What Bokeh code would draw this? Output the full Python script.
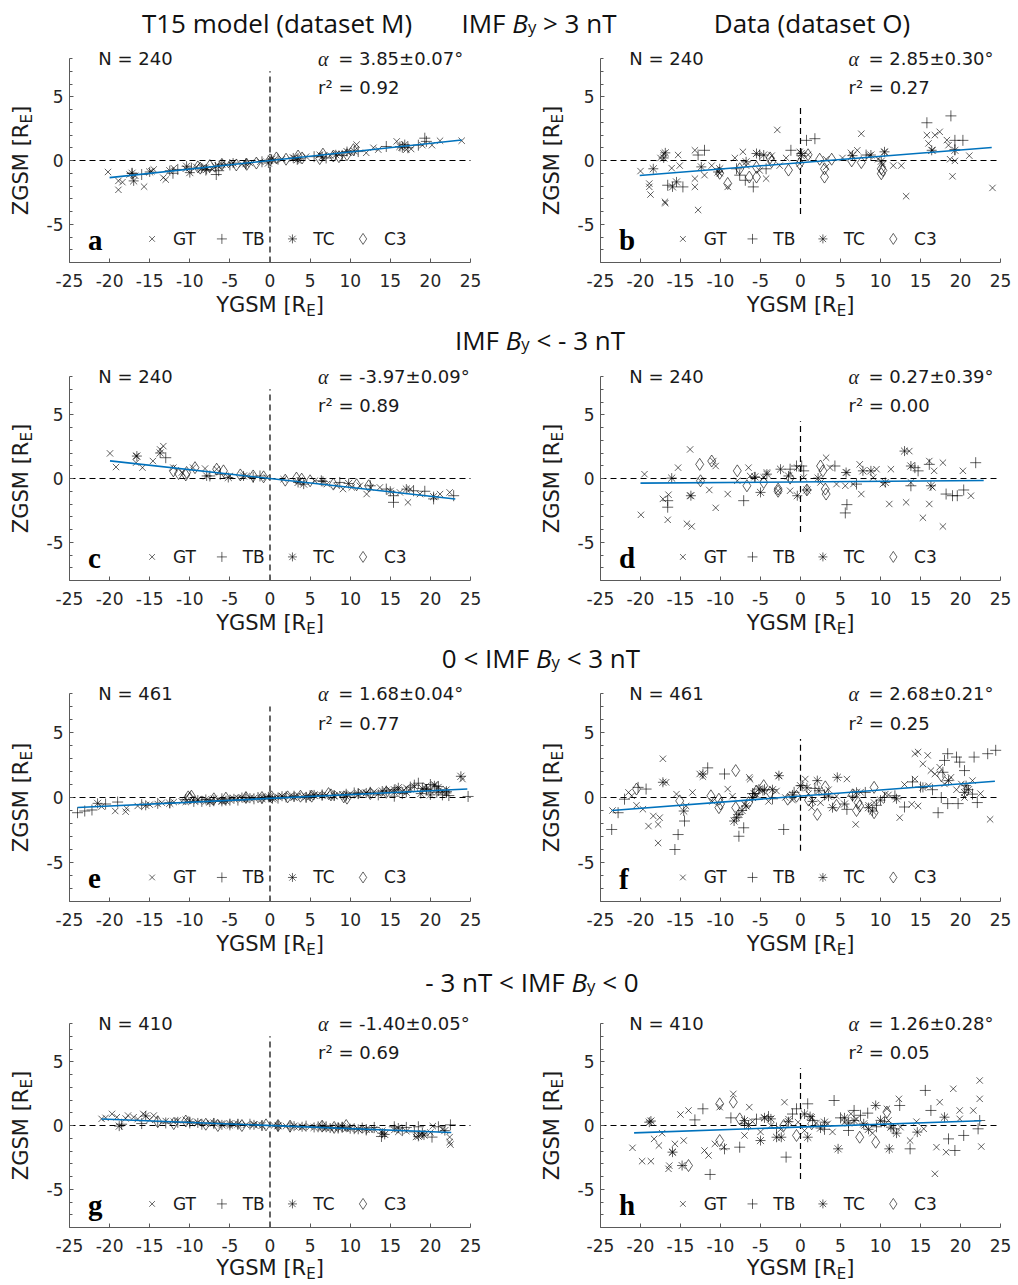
import math
from bokeh.plotting import figure
from bokeh.models import Label, FixedTicker, Div, Range1d
from bokeh.layouts import column, row
from bokeh.embed import file_html
from bokeh.resources import INLINE

# ------------------------------------------------------------------ data
series_names = ["GT", "TB", "TC", "C3"]
panel_letters = ["a", "b", "c", "d", "e", "f", "g", "h"]
n_events = [240, 240, 240, 240, 461, 461, 410, 410]
alpha_deg = [3.85, 2.85, -3.97, 0.27, 1.68, 2.68, -1.40, 1.26]
alpha_err = [0.07, 0.30, 0.09, 0.39, 0.04, 0.21, 0.05, 0.28]
r_squared = [0.92, 0.27, 0.89, 0.00, 0.77, 0.25, 0.69, 0.05]
fit_intercept = [0.0, -0.17, 0.0, -0.27, -0.07, 0.11, 0.0, -0.12]
fit_y_min = [-20.0, -20.1, -19.95, -20.0, -24.0, -23.6, -21.0, -20.8]
fit_y_max = [23.9, 23.9, 23.1, 22.9, 24.6, 24.3, 22.6, 22.6]
zero_line_top = [7.0, 4.4, 7.0, 4.5, 7.0, 4.5, 7.0, 4.5]
zero_line_bottom = [-8.0, -4.2, -8.0, -4.2, -8.0, -4.1, -8.0, -4.2]

x_ticks = [-25, -20, -15, -10, -5, 0, 5, 10, 15, 20, 25]
y_ticks = [-5, 0, 5]
y_minor_ticks = [-8, -7, -6, -5, -4, -3, -2, -1, 0, 1, 2, 3, 4, 5, 6, 7, 8]

column_titles = ["T15 model (dataset M)", "Data (dataset O)"]
cond_prefix = ["IMF ", "IMF ", "0 &lt; IMF ", "- 3 nT &lt; IMF "]
cond_suffix = [" &gt; 3 nT", " &lt; - 3 nT", " &lt; 3 nT", " &lt; 0"]

# panel a (model, By > 3)
a_gt_y = [-20.2,-18.9,-18.9,-18.4,-17.5,-16.8,-15.7,-14.8,-14.5,-13.3,-13.0,-12.0,-10.5,-9.2,-8.0,-7.2,-6.5,-5.5,-4.8,-3.5,-2.5,-1.2,0.5,1.5,3.0,4.5,6.2,7.5,8.6,9.8,10.8,12.0,12.9,13.5,15.8,16.4,17.0,17.6,19.0,20.2,21.2,23.9]
a_gt_z = [-0.9,-1.6,-2.3,-1.7,-1.1,-1.2,-2.05,-0.85,-0.7,-1.35,-1.5,-0.6,-0.65,-0.5,-0.55,-0.7,-0.4,-0.35,-0.3,-0.3,-0.2,-0.1,0.05,0.1,0.2,0.3,0.45,0.4,0.5,0.6,1.25,0.6,1.0,0.85,1.5,1.0,0.85,0.9,1.2,1.2,1.55,1.55]
a_tb_y = [-17.2,-16.0,-12.1,-11.5,-9.8,-8.0,-6.7,-6.4,-5.0,-3.0,-1.0,1.0,3.5,5.5,7.0,9.0,11.0,14.5,16.5,17.2,18.5,19.3,19.5]
a_tb_z = [-1.0,-1.1,-1.0,-0.7,-0.6,-0.75,-1.1,-0.8,-0.35,-0.25,-0.1,0.1,0.15,0.3,0.2,0.4,0.7,1.1,1.05,1.0,1.2,1.75,1.5]
a_tc_y = [-17.2,-17.0,-15.0,-12.5,-10.4,-10.0,-8.5,-7.9,-6.8,-6.0,-4.6,-3.0,-0.2,0.2,2.9,3.4,6.5,8.2,9.6,10.5,16.2,16.8]
a_tc_z = [-1.0,-1.6,-0.9,-0.8,-0.45,-0.95,-0.6,-0.7,-0.5,-0.3,-0.2,-0.25,-0.2,0.1,0.2,0.05,0.3,0.45,0.7,0.75,1.1,1.25]
a_c3_y = [-9.0,-8.7,-7.5,-6.0,-4.2,-2.9,-1.7,0.0,0.8,2.0,3.5,4.0,6.2,6.6,7.9,8.6,9.6,10.4]
a_c3_z = [-0.5,-0.6,-0.4,-0.3,-0.35,-0.3,-0.2,0.05,0.2,0.1,0.35,0.2,0.15,0.5,0.35,0.3,0.45,0.85]

# panel b (data, By > 3)
b_gt_y = [-20.0,-18.9,-18.9,-18.75,-16.95,-16.9,-17.1,-17.5,-15.3,-13.2,-12.8,-13.2,-13.2,-16.1,-15.1,-12.0,-11.1,-10.1,-9.1,-8.2,-7.2,-6.8,-5.1,-4.3,-3.6,-2.9,-2.6,-1.8,-0.1,-0.1,0.95,3.2,3.2,5.25,6.3,7.1,7.6,8.6,9.7,10.3,10.5,11.6,12.6,13.2,15.8,16.0,16.5,16.8,17.4,18.5,18.7,19.0,19.3,21.1,24.0,18.3]
b_gt_z = [-0.83,-1.81,-2.07,-2.67,-3.24,-3.35,0.55,0.2,0.43,0.8,-3.88,-1.42,-2.07,-0.6,-0.4,-1.15,-0.4,-1.0,-2.07,0.2,0.68,-0.4,-0.78,-1.42,0.38,2.4,-0.4,0.2,0.68,-0.25,0.45,0.1,-0.5,0.2,0.6,0.8,2.1,0.38,0.1,-0.3,0.65,-0.4,-0.4,-2.8,1.99,1.34,0.8,1.99,2.25,1.2,0.1,-1.24,-0.03,0.38,-2.15,1.6]
b_tb_y = [-12.0,-12.8,-14.7,-16.6,-6.9,-5.9,-5.1,-4.3,-1.2,0.75,1.8,15.8,18.8,19.3,20.3,19.3,-7.6,-8.0,8.2]
b_tb_z = [0.8,0.43,-2.07,-1.94,-1.55,-2.07,0.43,-0.65,0.8,1.58,1.71,2.96,3.5,1.58,1.58,0.85,-1.15,-0.65,0.43]
b_tc_y = [-17.1,-16.9,-18.4,-16.0,-15.5,-12.4,-10.3,-10.1,-6.8,-5.5,-4.6,0.1,0.1,6.5,8.8,10.1,10.5,16.4,19.3]
b_tc_z = [0.2,0.6,-0.65,-2.07,-1.68,-0.5,-0.9,-0.65,-0.1,0.55,0.43,0.55,0.38,0.38,0.43,-0.05,0.68,0.8,0.8]
b_c3_y = [-10.1,-9.1,-7.6,-6.4,-5.5,-3.8,-3.6,-1.5,-0.1,0.95,2.4,3.0,3.0,3.9,6.4,7.6,10.1,10.1,10.3,-5.5]
b_c3_z = [-1.0,-1.8,-0.65,-1.3,-1.3,0.2,-0.1,-0.75,-0.25,0.45,0.1,-0.65,-1.3,0.1,-0.03,-0.16,-0.65,-1.04,-0.78,-0.52]

# panel c (model, By < -3)
c_gt_y = [-19.95,-19.2,-16.7,-16.7,-15.9,-14.6,-13.7,-13.3,-12.05,-11.0,-9.6,-8.1,-6.65,-5.0,-2.9,-0.4,1.7,3.7,5.6,7.1,8.3,9.1,10.2,11.2,12.05,12.5,13.7,16.2,17.2,17.5,18.7,21.2,22.4]
c_gt_z = [1.97,0.9,1.76,1.24,0.85,1.37,2.28,2.54,0.85,0.47,0.85,0.78,0.73,0.2,0.2,0.08,-0.05,-0.13,-0.18,-0.44,-0.57,-0.83,-0.7,-0.57,-1.22,-0.7,-0.7,-1.09,-1.87,-0.83,-1.22,-1.22,-1.09]
c_tb_y = [-13.0,-7.5,-6.2,-2.1,-1.25,6.4,14.5,15.4,15.4,17.9,19.3,20.4,22.9,8.7,12.5]
c_tb_z = [1.63,0.2,0.34,0.08,0.2,-0.18,-0.83,-1.35,-1.87,-0.96,-1.0,-1.6,-1.35,-0.31,-0.57]
c_tc_y = [-16.6,-13.7,-7.9,-5.2,-3.3,3.5,4.2,6.6,9.8,15.0,17.0,20.4]
c_tc_z = [1.76,2.0,0.2,0.08,0.2,-0.31,-0.44,-0.23,-0.39,-1.0,-0.83,-1.42]
c_c3_y = [-12.05,-11.4,-10.5,-10.4,-9.35,-6.65,-5.8,-3.7,-2.1,-0.8,1.9,3.3,3.95,5.0,7.9,10.8,12.3]
c_c3_z = [0.6,0.39,0.28,0.47,0.85,0.73,0.6,0.28,0.2,0.13,-0.13,0.03,-0.05,-0.18,-0.44,-0.49,-0.57]

# panel d (data, By < -3)
d_gt_y = [-19.95,-19.5,-17.2,-16.5,-16.6,-15.3,-14.2,-13.6,-13.8,-13.8,-12.5,-11.4,-10.9,-10.6,-10.6,-9.1,-7.9,-6.5,-6.3,-4.6,-4.2,-2.8,-1.3,-0.4,0.4,2.5,3.2,3.7,4.5,5.6,5.8,6.6,7.4,7.6,9.1,9.5,10.3,11.1,11.3,13.2,13.8,15.3,16.1,16.1,16.5,16.7,17.8,17.8,20.3,21.3,13.6]
d_gt_z = [-2.85,0.34,-1.6,-1.27,-3.24,0.85,-3.55,-3.76,2.28,-1.35,-0.18,-0.9,1.37,0.98,-2.3,-1.22,-0.18,0.85,0.2,0.08,0.47,-0.96,-0.96,0.85,0.08,-0.31,1.63,0.85,-0.44,-0.57,0.47,-0.44,1.11,-1.22,0.08,0.73,-0.44,-2.0,0.73,-1.87,-0.31,-3.08,-2.0,1.37,-0.7,0.6,1.24,-3.76,0.6,-1.35,2.15]
d_tb_y = [-16.6,-16.6,-7.1,-5.7,-1.3,-0.5,0.15,0.4,4.3,5.8,5.6,7.0,14.3,14.7,16.1,18.2,19.0,19.6,20.4,21.9,13.8]
d_tb_z = [-2.25,-1.74,-1.74,0.08,0.73,0.98,0.98,0.6,0.98,-2.05,-2.7,-0.44,0.85,0.6,1.11,-1.22,-1.35,-1.35,-0.9,1.24,-0.57]
d_tc_y = [-16.1,-13.7,-5.7,-5.0,-4.2,-2.5,-1.5,-0.4,0.8,2.2,5.7,7.8,8.8,10.6,13.0,13.8,16.3]
d_tc_z = [0.03,-1.35,0.13,-1.09,0.34,0.73,0.2,-1.35,-0.9,0.03,0.47,0.6,0.6,-0.31,2.15,0.98,-0.57]
d_c3_y = [-12.5,-12.6,-11.1,-7.9,-6.7,-4.6,-2.8,-2.8,0.8,2.5,3.1,3.2,2.8,-1.3]
d_c3_z = [-0.18,1.11,1.37,0.6,-0.57,-0.31,-0.83,-1.0,-0.9,0.98,-0.83,-1.22,0.6,0.03]

# panel e (model, 0 < By < 3)
e_gt_y = [-19.3,-18.0,-17.9,-21.0,-16.5,-15.0,-13.5,-12.0,-11.0,-9.5,-8.0,-6.5,-5.0,-3.5,-2.0,-0.5,1.0,2.5,4.0,5.5,7.0,8.5,10.0,11.5,13.0,14.5,16.0,17.0,18.0,19.5,20.5,21.5,24.0,
          -14.0,-10.5,-9.0,-7.5,-7.0,-6.0,-4.0,-3.0,-1.0,0.5,1.5,3.0,3.5,5.0,6.0,8.0,9.0,11.0,12.0,13.5,15.0,15.5,16.5,17.5,19.0,20.0,21.0,22.0]
e_gt_z = [-1.04,-1.09,-0.83,-0.7,-0.65,-0.55,-0.4,-0.35,-0.3,-0.25,-0.3,-0.2,-0.15,-0.1,-0.05,0.0,0.05,0.1,0.1,0.15,0.2,0.25,0.3,0.4,0.45,0.5,0.6,0.75,0.85,0.9,1.0,0.5,1.42,
          -0.5,-0.35,-0.15,-0.3,-0.1,-0.25,-0.05,-0.15,0.05,-0.05,0.1,0.0,0.15,0.05,0.2,0.1,0.25,0.2,0.35,0.3,0.55,0.4,0.45,0.65,0.7,0.5,0.8,0.6]
e_tb_y = [-24.0,-23.1,-22.2,-20.5,-19.0,-16.0,-14.0,-10.5,-8.5,-7.0,-4.0,-1.5,2.0,5.0,8.0,11.0,13.5,15.5,17.5,18.5,19.5,20.0,20.8,21.5,22.3,24.7,
          -12.5,-9.5,-6.0,-5.0,-3.0,-2.0,0.0,1.0,3.0,4.5,6.5,9.5,10.5,12.5,14.5,16.5,18.0,19.0,21.0,22.0]
e_tb_z = [-1.17,-1.04,-0.96,-0.5,-0.35,-0.55,-0.45,-0.15,-0.3,-0.25,-0.2,0.0,0.05,0.15,0.15,0.3,0.2,0.1,0.8,1.1,0.6,1.0,0.4,0.2,0.15,0.08,
          -0.4,-0.3,-0.1,-0.2,0.0,-0.1,0.05,-0.05,0.1,0.0,0.2,0.25,0.35,0.4,0.5,0.3,0.95,0.7,0.85,0.45]
e_tc_y = [-21.5,-15.5,-12.5,-9.0,-7.5,-6.0,-4.5,-2.5,-0.2,0.3,3.0,4.5,6.5,9.5,12.0,14.0,15.5,17.0,18.8,20.0,20.5,21.0,23.8,
          -8.0,-5.5,-3.5,-1.0,1.5,5.5,8.0,11.0,16.0,19.5,22.0]
e_tc_z = [-0.45,-0.6,-0.45,-0.2,-0.35,-0.3,-0.1,-0.05,0.05,-0.1,0.05,0.05,0.15,0.1,0.35,0.5,0.6,0.4,0.3,0.2,0.9,0.5,1.63,
          -0.15,-0.25,0.0,-0.1,0.1,0.2,0.15,0.3,0.75,0.65,0.35]
e_c3_y = [-10.2,-10.0,-9.8,-7.0,-5.5,-3.0,-1.0,0.2,2.2,3.8,5.2,7.3,7.6,9.2,9.6,12.5,14.5]
e_c3_z = [0.05,-0.05,0.1,-0.1,-0.05,0.0,0.0,0.05,0.05,0.1,0.1,0.3,0.2,0.05,-0.05,0.3,0.4]

# panel f (data, 0 < By < 3)
f_gt_y = [-17.2,-16.8,-17.8,-17.8,-19.0,-18.4,-17.6,-19.7,-21.1,-21.5,-15.5,-14.3,-13.5,-12.6,-12.2,-9.1,-6.4,-6.3,-2.7,-1.9,0.6,1.4,5.8,6.9,9.2,10.6,12.4,13.9,14.7,14.3,14.7,15.3,15.9,16.8,17.4,18.0,18.8,20.1,20.5,23.7,14.3,16.3,
          -11.0,-8.5,-7.0,-5.5,-4.0,-3.0,-1.0,1.0,2.5,3.5,4.5,7.5,8.5,11.0,13.0,16.0,19.5,21.5,22.5,-23.5,-20.5]
f_gt_z = [2.98,1.17,-3.5,-2.07,-2.2,-1.42,-1.55,-0.9,0.13,0.39,0.26,-0.65,0.39,1.81,1.6,0.65,1.55,1.4,1.68,0.0,1.42,-0.78,1.42,-2.07,-0.39,0.26,-1.55,-0.52,-0.65,3.37,3.5,2.59,3.24,1.81,2.33,1.04,1.55,1.04,0.0,-1.68,1.42,2.07,
          -0.3,0.1,-0.5,0.2,-0.3,0.5,-0.2,0.3,-0.4,0.6,0.1,0.4,-0.6,0.2,1.0,0.9,0.6,1.3,0.3,-1.0,-0.6]
f_tb_y = [-23.6,-22.8,-22.0,-20.3,-19.3,-15.7,-15.3,-14.5,-11.6,-9.5,-7.7,-7.1,-2.1,0.2,5.8,8.1,11.8,13.0,17.2,17.6,18.0,18.4,19.5,19.9,20.5,21.7,23.4,24.4,19.7,18.4,22.1,17.8,21.5,
          -6.0,-4.5,-3.5,-0.8,1.8,3.0,6.5,9.5,10.5,14.0,15.0,16.5]
f_tb_z = [-2.46,-1.17,-0.13,0.78,0.65,-4.0,-2.85,-1.81,2.28,1.81,-2.98,-2.33,-2.46,0.91,-0.91,0.39,0.13,-0.73,-1.17,0.0,2.85,3.37,3.11,2.72,2.07,3.11,3.37,3.63,-0.47,-0.47,-0.39,1.94,0.26,
          0.3,0.6,-0.1,0.4,0.7,0.2,0.1,-0.6,0.0,1.2,0.8,0.6]
f_tc_y = [-12.2,-5.2,-2.7,0.0,2.1,4.6,4.0,-8.3,-7.7,-6.8,-6.0,-4.7,-14.6,-17.2,8.5,9.0,20.7,20.5,15.3,2.3,
          -8.0,-7.3,-5.8,-3.5,-1.0,0.8,1.5,3.5,5.5,7.0,10.0,12.0,18.5,21.0]
f_tc_z = [1.81,0.65,1.68,0.91,1.3,1.55,-0.78,-1.81,-1.3,-0.65,0.0,0.52,-1.04,1.17,-0.78,-1.04,0.91,0.39,0.78,0.52,
          -1.55,-1.0,0.3,0.6,0.2,0.75,-0.3,0.1,-0.5,0.4,-0.2,-0.1,1.3,0.6]
f_c3_y = [-8.1,-8.1,-10.2,-10.2,-11.2,-4.6,-3.8,3.1,2.1,7.2,7.4,9.2,9.2,-1.6,17.6,-15.1,-20.5,
          -10.0,-6.5,-5.5,-0.5,1.0,4.5,6.5,7.0]
f_c3_z = [2.07,-0.78,-0.13,-0.78,0.13,0.91,0.39,0.82,-1.3,-0.39,-0.65,0.78,-1.17,-0.13,1.68,-0.26,0.65,
          -0.5,-0.4,0.5,0.1,-0.2,-0.6,0.2,-1.0]

# panel g (model, -3 < By < 0)
g_gt_y = [-21.0,-19.7,-19.1,-18.0,-17.7,-16.5,-15.8,-14.5,-13.0,-11.5,-10.5,-9.0,-7.5,-6.0,-4.5,-3.0,-1.5,0.5,2.0,3.5,5.0,6.5,8.0,9.5,11.0,12.5,14.0,15.5,17.0,18.2,19.0,20.3,21.5,22.4,22.4,22.5,
          -20.5,-17.0,-15.0,-12.0,-8.0,-5.0,-2.0,1.0,4.0,7.0,10.0,13.0,16.0,18.8,20.0]
g_gt_z = [0.52,0.91,0.65,0.55,0.78,0.5,0.91,0.78,0.35,0.4,0.45,0.25,0.2,0.15,0.1,0.05,0.05,0.0,-0.05,-0.1,-0.1,-0.15,-0.2,-0.25,-0.3,-0.35,-0.4,-0.35,-0.45,-0.9,-0.6,-0.05,-0.3,-1.3,-0.91,-1.5,
          0.6,0.65,0.45,0.3,0.15,0.0,0.1,-0.05,-0.15,-0.2,-0.15,-0.3,-0.5,-0.7,-0.55]
g_tb_y = [-18.5,-16.0,-13.0,-11.5,-8.5,-5.0,-2.5,1.0,4.5,7.0,9.0,11.5,13.0,13.9,15.5,17.0,18.5,19.0,20.2,21.0,22.5,
          -14.0,-10.0,-7.0,-4.0,-1.0,2.5,6.0,8.5,10.5,12.0,16.5,18.0]
g_tb_z = [0.1,0.15,0.2,0.25,0.1,0.05,0.1,-0.05,-0.05,-0.1,-0.15,-0.2,-0.15,-0.86,-0.1,-0.15,-0.1,-0.6,-0.91,-0.1,0.05,
          0.3,0.2,0.15,0.1,0.0,-0.1,-0.1,-0.2,-0.25,-0.35,-0.4,-0.5]
g_tc_y = [-18.8,-15.5,-10.0,-7.0,-6.0,-4.0,-1.0,3.0,5.5,6.5,7.5,9.0,11.0,14.0,14.3,16.0,18.5,19.2,21.8,
          -9.0,-5.0,-2.0,1.0,4.0,8.5,10.0,12.0]
g_tc_z = [-0.05,0.75,0.3,0.2,0.05,0.1,0.0,-0.05,-0.15,-0.05,-0.2,-0.1,-0.3,-0.6,-0.7,-0.2,-0.85,-0.75,-0.4,
          0.2,0.15,0.05,0.0,-0.1,-0.15,-0.25,-0.3]
g_c3_y = [-14.0,-12.0,-10.5,-8.0,-6.5,-3.5,-0.5,1.0,2.5,6.5,8.0,9.5]
g_c3_z = [0.3,0.15,0.35,0.1,0.0,0.0,0.05,0.0,-0.05,-0.05,-0.15,0.0]

# panel h (data, -3 < By < 0)
h_gt_y = [-21.0,-19.8,-18.7,-18.3,-17.7,-17.3,-16.5,-16.4,-16.0,-15.7,-15.0,-14.0,-14.6,-11.5,-12.0,-10.7,-9.6,-10.1,-8.4,-6.4,-7.0,-3.7,-2.0,-0.3,1.4,3.4,5.5,6.3,10.8,12.3,12.5,13.7,17.0,18.2,19.1,17.4,19.9,21.6,22.4,22.4,22.6,16.8,15.4,19.9,
          -6.0,-5.0,-4.5,-2.5,-1.5,0.5,2.0,4.0,7.0,8.0,9.0,11.0,14.5]
h_gt_z = [-1.75,-2.8,-2.8,-1.05,-1.57,-0.6,-3.4,-3.15,-2.09,-1.44,0.86,1.18,-1.18,-2.35,-1.96,-1.44,-1.7,1.44,2.48,1.44,-0.78,0.0,1.83,0.26,0.65,0.13,0.26,0.92,1.31,2.09,-0.13,-1.18,-1.7,-2.09,2.88,1.83,1.18,1.18,3.53,2.09,-1.65,-3.79,-0.26,0.52,
          0.3,-0.5,0.6,-0.3,0.5,-0.4,0.2,-0.5,0.5,0.0,-0.6,0.4,0.3]
h_tb_y = [-13.2,-12.2,-9.5,-8.7,-7.6,-7.0,-1.8,-11.3,-0.5,0.9,4.2,6.7,8.4,12.4,15.6,16.3,18.5,19.3,20.4,13.7,11.6,22.2,22.4,6.0,
          -5.5,-4.0,-3.0,-1.0,1.5,3.0,5.0,7.5,9.5,10.5]
h_tb_z = [0.44,1.31,-1.83,0.6,-1.7,0.13,-2.48,-3.84,1.31,1.7,1.96,1.18,0.97,1.57,2.75,1.18,-1.05,-1.96,-0.78,-1.83,-0.26,-0.26,0.39,-0.39,
          0.5,0.7,-0.2,0.9,0.4,-0.3,0.6,0.8,-0.1,0.3]
h_tc_y = [-18.9,-18.7,-16.0,-14.8,-5.0,-3.0,-2.4,-7.0,-3.7,1.2,0.9,4.7,6.7,9.4,11.3,14.6,11.1,18.0,3.0,7.9,
          -6.5,-4.5,-1.5,0.5,2.5,5.5,6.0,8.5,10.0,12.0]
h_tc_z = [0.26,0.35,-2.09,-3.14,-1.18,-0.92,-0.92,0.39,0.52,0.7,-0.92,-1.83,0.39,1.57,-0.13,-0.52,-1.83,0.65,0.26,0.13,
          0.0,0.6,0.3,0.9,-0.2,0.6,0.2,-0.3,0.4,-0.6]
h_c3_y = [-10.1,-8.4,-10.1,-14.0,-7.6,-0.5,1.4,7.4,9.4,10.8,-2.1]
h_c3_z = [1.7,1.83,-1.18,-3.14,0.52,-0.78,0.13,-0.92,-1.31,1.05,0.0]

panel_points = {
    "a": [(a_gt_y, a_gt_z), (a_tb_y, a_tb_z), (a_tc_y, a_tc_z), (a_c3_y, a_c3_z)],
    "b": [(b_gt_y, b_gt_z), (b_tb_y, b_tb_z), (b_tc_y, b_tc_z), (b_c3_y, b_c3_z)],
    "c": [(c_gt_y, c_gt_z), (c_tb_y, c_tb_z), (c_tc_y, c_tc_z), (c_c3_y, c_c3_z)],
    "d": [(d_gt_y, d_gt_z), (d_tb_y, d_tb_z), (d_tc_y, d_tc_z), (d_c3_y, d_c3_z)],
    "e": [(e_gt_y, e_gt_z), (e_tb_y, e_tb_z), (e_tc_y, e_tc_z), (e_c3_y, e_c3_z)],
    "f": [(f_gt_y, f_gt_z), (f_tb_y, f_tb_z), (f_tc_y, f_tc_z), (f_c3_y, f_c3_z)],
    "g": [(g_gt_y, g_gt_z), (g_tb_y, g_tb_z), (g_tc_y, g_tc_z), (g_c3_y, g_c3_z)],
    "h": [(h_gt_y, h_gt_z), (h_tb_y, h_tb_z), (h_tc_y, h_tc_z), (h_c3_y, h_c3_z)],
}

# ------------------------------------------------------------------ styles
MARKERS = ["x", "cross", "asterisk", "diamond"]
MSIZE = [9, 11, 10, 12]
LEG_MSIZE = [8, 10, 9, 11]
FIT_COLOR = "#0072BD"
TXT = "#1a1a1a"
AX = "#5a5a5a"
DV = {"Y": 0.611, "G": 0.775, "S": 0.635, "M": 0.863, " ": 0.318, "[": 0.390,
      "R": 0.695, "E": 0.632, "]": 0.390, "Z": 0.685}


def tw(s, size):
    return sum(DV.get(ch, 0.6) for ch in s) * size


def lab(p, x, y, text, size, font="DejaVu Sans", style="normal", align="left",
        baseline="middle", angle=0.0, color=TXT):
    p.add_layout(Label(x=x, y=y, text=text, text_font=font,
                       text_font_size=f"{size}px", text_font_style=style,
                       text_align=align, text_baseline=baseline, angle=angle,
                       text_color=color))


def build_panel(k, left, frame_h, border_bottom, xlab_off):
    letter = panel_letters[k]
    fw = 401 if left else 400
    bl = 69 if left else 82
    br = 48 if left else 18
    bt = 18
    ppx = fw / 50.0
    ppy = frame_h / 16.0
    p = figure(width=bl + fw + br, height=bt + frame_h + border_bottom,
               x_range=Range1d(-25 - bl / ppx, 25 + br / ppx),
               y_range=Range1d(-8 - border_bottom / ppy, 8 + bt / ppy),
               min_border=0, min_border_left=0, min_border_right=0,
               min_border_top=0, min_border_bottom=0,
               output_backend="svg", toolbar_location=None)
    p.outline_line_color = None
    p.xgrid.visible = False
    p.ygrid.visible = False
    p.background_fill_color = "white"
    p.border_fill_color = "white"

    p.xaxis.fixed_location = -8
    p.yaxis.fixed_location = -25
    p.xaxis.bounds = (-25, 25)
    p.yaxis.bounds = (-8, 8)
    p.xaxis.ticker = FixedTicker(ticks=x_ticks)
    p.yaxis.ticker = FixedTicker(ticks=y_ticks, minor_ticks=y_minor_ticks)
    p.xaxis.major_label_overrides = {v: str(v) for v in x_ticks}
    p.yaxis.major_label_overrides = {v: str(v) for v in y_ticks}
    for ax in (p.xaxis, p.yaxis):
        ax.axis_line_color = AX
        ax.axis_line_width = 1
        ax.major_tick_line_color = AX
        ax.minor_tick_line_color = AX
        ax.major_tick_in = 4
        ax.major_tick_out = 0
        ax.minor_tick_in = 3
        ax.minor_tick_out = 0
        ax.major_label_text_font = "DejaVu Sans"
        ax.major_label_text_font_size = "17px"
        ax.major_label_text_color = "#262626"
    p.xaxis.minor_tick_line_color = None
    p.xaxis.major_label_standoff = 11
    p.yaxis.major_label_standoff = 6

    # zero reference lines
    p.segment(x0=[x_ticks[0]], y0=[0], x1=[x_ticks[-1]], y1=[0],
              line_color="black", line_width=1.2, line_dash="6 4")
    p.segment(x0=[0], y0=[zero_line_bottom[k]], x1=[0], y1=[zero_line_top[k]],
              line_color="black", line_width=1.2, line_dash="6 4")

    # scatter
    for si, (ys, zs) in enumerate(panel_points[letter]):
        p.scatter(x=ys, y=zs, marker=MARKERS[si], size=MSIZE[si],
                  line_color="black", line_alpha=0.62, line_width=1,
                  fill_color=None)

    # fit line
    slope = math.tan(math.radians(alpha_deg[k]))
    fx = [fit_y_min[k], fit_y_max[k]]
    fz = [slope * v + fit_intercept[k] for v in fx]
    p.line(fx, fz, line_color=FIT_COLOR, line_width=1.6)

    # legend (manual, horizontal, no box)
    leg_y = -6.15
    leg_mx = [-14.7, -6.0, 2.8, 11.6]
    for si, name in enumerate(series_names):
        p.scatter(x=[leg_mx[si]], y=[leg_y], marker=MARKERS[si], size=LEG_MSIZE[si],
                  line_color="black", line_alpha=0.6, line_width=1, fill_color=None)
        lab(p, leg_mx[si] + 2.6, leg_y, name, 17)

    # annotations
    lab(p, -22.7, -6.25, letter, 29, font="Liberation Serif", style="bold",
        color="black")
    lab(p, -21.4, 8.0, f"N = {n_events[k]}", 18)
    lab(p, 6.0, 8.0, "α", 20, font="Liberation Serif", style="italic")
    lab(p, 8.5, 8.0, f"= {alpha_deg[k]:.2f}±{alpha_err[k]:.2f}°", 18)
    lab(p, 6.0, 5.7, f"r² = {r_squared[k]:.2f}", 18)

    # axis titles with subscript E
    fs, sfs = 21, 15
    w_main = tw("YGSM [R", fs)
    w_e = tw("E", sfs)
    total = w_main + w_e + tw("]", fs)
    x0 = -total / 2.0 / ppx
    ym = -8 - xlab_off / ppy
    lab(p, x0, ym, "YGSM [R", fs)
    lab(p, x0 + w_main / ppx, -8 - (xlab_off + 6.0) / ppy, "E", sfs)
    lab(p, x0 + (w_main + w_e) / ppx, ym, "]", fs)

    w_main = tw("ZGSM [R", fs)
    total = w_main + w_e + tw("]", fs)
    y0 = -total / 2.0 / ppy
    xm = -25 - 48.3 / ppx
    rot = math.pi / 2
    lab(p, xm, y0, "ZGSM [R", fs, angle=rot)
    lab(p, -25 - 42.3 / ppx, y0 + w_main / ppy, "E", sfs, angle=rot)
    lab(p, xm, y0 + (w_main + w_e) / ppy, "]", fs, angle=rot)
    return p


def title_div(h, items):
    parts = "".join(
        f'<div style="position:absolute;left:{x - 250}px;top:{y - 15}px;width:500px;'
        f'height:30px;line-height:30px;text-align:center;white-space:nowrap;">{t}</div>'
        for x, y, t in items)
    html = (f'<div style="position:relative;width:1018px;height:{h}px;'
            f'font-family:\'Open Sans\';font-size:26px;color:#111;">{parts}</div>')
    return Div(text=html, width=1018, height=h, margin=0)


def cond_html(i):
    return (f'{cond_prefix[i]}<i>B</i><span style="font-size:64%;">y</span>{cond_suffix[i]}')


frame_heights = [204, 204, 208, 204]
bottoms = [60, 60, 60, 57]
xlab_offsets = [42.5, 42.5, 42.5, 40.0]
div_heights = [40, 36, 35, 44]
div_centers = [23, 18, 18, 21]
cond_x = [539, 540, 541, 532]

children = []
for r in range(4):
    items = [(cond_x[r], div_centers[r], cond_html(r))]
    if r == 0:
        items = [(277, 23, column_titles[0]), (cond_x[0], 23, cond_html(0)),
                 (812, 23, column_titles[1])]
    children.append(title_div(div_heights[r], items))
    pl = build_panel(2 * r, True, frame_heights[r], bottoms[r], xlab_offsets[r])
    pr = build_panel(2 * r + 1, False, frame_heights[r], bottoms[r], xlab_offsets[r])
    children.append(row(pl, pr, spacing=0))

layout = column(*children, spacing=0)
open("out.html", "w").write(file_html(layout, INLINE))
